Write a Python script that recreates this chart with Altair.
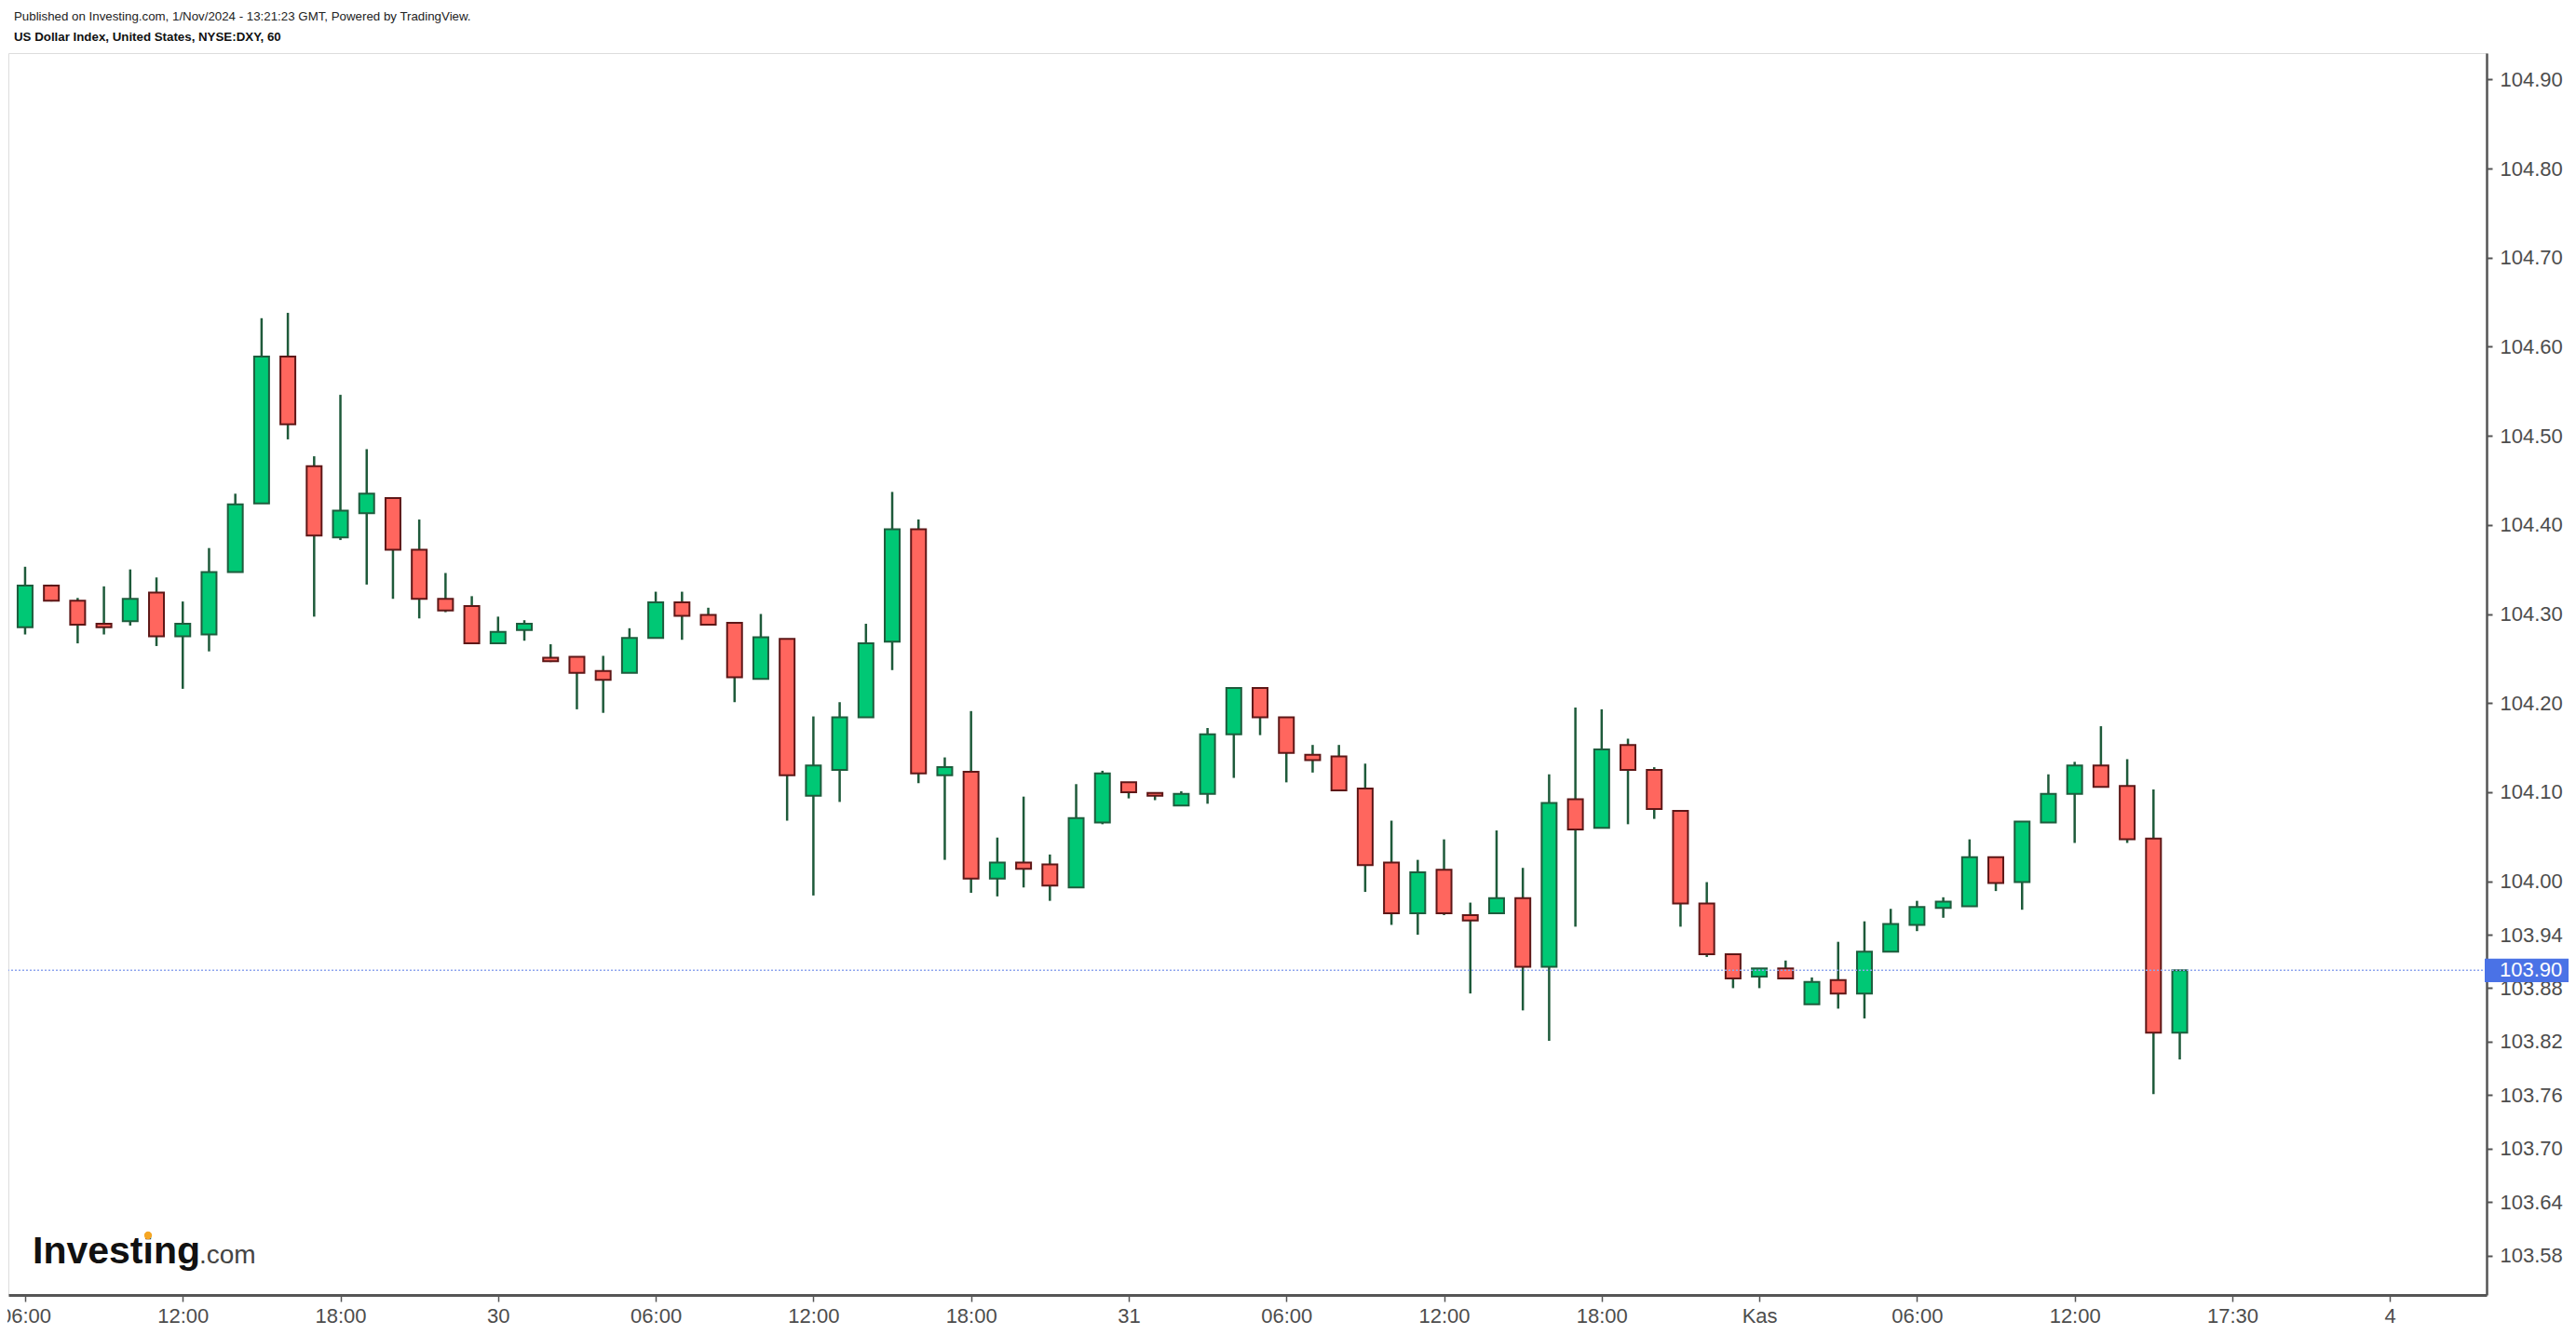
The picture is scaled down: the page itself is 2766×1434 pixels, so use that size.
import altair as alt
import pandas as pd

# ---- data (hourly DXY candles, bar index 0 = 29 Oct 06:00) ----
opens = [104.285, 104.332, 104.315, 104.289, 104.292, 104.324, 104.275, 104.277, 104.347, 104.424,
         104.589, 104.466, 104.386, 104.413, 104.430, 104.372, 104.317, 104.309, 104.267, 104.282,
         104.251, 104.252, 104.236, 104.234, 104.273, 104.313, 104.299, 104.290, 104.227, 104.272,
         104.096, 104.125, 104.184, 104.269, 104.395, 104.119, 104.123, 104.003, 104.021, 104.019,
         103.993, 104.066, 104.111, 104.099, 104.085, 104.098, 104.165, 104.217, 104.184, 104.142,
         104.140, 104.104, 104.021, 103.964, 104.013, 103.962, 103.964, 103.981, 103.904, 104.092,
         104.060, 104.153, 104.125, 104.079, 103.975, 103.918, 103.893, 103.902, 103.862, 103.889,
         103.874, 103.921, 103.951, 103.970, 103.972, 104.027, 103.999, 104.066, 104.098, 104.130,
         104.107, 104.048, 103.830]
highs = [104.353, 104.333, 104.318, 104.331, 104.350, 104.341, 104.314, 104.374, 104.435, 104.632,
         104.638, 104.477, 104.546, 104.485, 104.430, 104.406, 104.346, 104.320, 104.297, 104.293,
         104.266, 104.252, 104.253, 104.284, 104.325, 104.325, 104.307, 104.290, 104.300, 104.272,
         104.185, 104.201, 104.289, 104.437, 104.406, 104.139, 104.191, 104.049, 104.095, 104.030,
         104.109, 104.124, 104.111, 104.099, 104.101, 104.172, 104.217, 104.217, 104.184, 104.153,
         104.153, 104.132, 104.068, 104.024, 104.047, 103.976, 104.057, 104.015, 104.120, 104.195,
         104.193, 104.160, 104.128, 104.079, 103.999, 103.918, 103.902, 103.911, 103.892, 103.932,
         103.955, 103.969, 103.978, 103.982, 104.047, 104.027, 104.067, 104.120, 104.134, 104.174,
         104.137, 104.103, 103.900]
lows = [104.277, 104.314, 104.267, 104.277, 104.287, 104.264, 104.216, 104.258, 104.347, 104.424,
        104.496, 104.297, 104.383, 104.333, 104.317, 104.295, 104.302, 104.267, 104.267, 104.270,
        104.246, 104.193, 104.189, 104.234, 104.273, 104.271, 104.288, 104.201, 104.227, 104.068,
        103.984, 104.089, 104.184, 104.237, 104.110, 104.024, 103.987, 103.983, 103.993, 103.978,
        103.993, 104.064, 104.093, 104.091, 104.085, 104.087, 104.116, 104.164, 104.111, 104.122,
        104.102, 103.988, 103.951, 103.940, 103.962, 103.874, 103.964, 103.855, 103.821, 103.949,
        104.060, 104.064, 104.070, 103.949, 103.915, 103.880, 103.880, 103.891, 103.862, 103.857,
        103.846, 103.921, 103.944, 103.959, 103.972, 103.989, 103.968, 104.066, 104.043, 104.106,
        104.043, 103.761, 103.800]
closes = [104.332, 104.315, 104.288, 104.285, 104.317, 104.275, 104.289, 104.347, 104.423, 104.589,
          104.513, 104.388, 104.416, 104.435, 104.372, 104.317, 104.304, 104.267, 104.280, 104.289,
          104.247, 104.234, 104.226, 104.273, 104.313, 104.298, 104.288, 104.229, 104.274, 104.119,
          104.130, 104.184, 104.267, 104.395, 104.121, 104.128, 104.003, 104.021, 104.014, 103.995,
          104.071, 104.121, 104.100, 104.096, 104.098, 104.165, 104.217, 104.184, 104.144, 104.136,
          104.102, 104.018, 103.964, 104.010, 103.964, 103.956, 103.981, 103.904, 104.088, 104.058,
          104.148, 104.125, 104.081, 103.975, 103.918, 103.891, 103.902, 103.891, 103.887, 103.874,
          103.921, 103.952, 103.971, 103.977, 104.027, 103.998, 104.067, 104.098, 104.130, 104.106,
          104.047, 103.830, 103.900]

x_tick_positions = [0, 6, 12, 18, 24, 30, 36, 42, 48, 54, 60, 66, 72, 78, 84, 90]
x_tick_labels = ["06:00", "12:00", "18:00", "30", "06:00", "12:00", "18:00", "31",
                 "06:00", "12:00", "18:00", "Kas", "06:00", "12:00", "17:30", "4"]
y_tick_values = [104.90, 104.80, 104.70, 104.60, 104.50, 104.40, 104.30, 104.20, 104.10,
                 104.00, 103.94, 103.88, 103.82, 103.76, 103.70, 103.64, 103.58]
last_price = 103.90

header_line1 = "Published on Investing.com, 1/Nov/2024 - 13:21:23 GMT, Powered by TradingView."
header_line2 = "US Dollar Index, United States, NYSE:DXY, 60"

# ---- styling ----
FONT = "Liberation Sans, Arial, sans-serif"
UP_FILL, DOWN_FILL = "#00C875", "#FF665E"
UP_EDGE, DOWN_EDGE = "#1E5C3D", "#5E1717"
WICK = "#1E5A3A"
AXIS = "#555555"
LABEL = "#4d4d4d"
LABEL_SIZE = 22

df = pd.DataFrame({
    "i": list(range(len(opens))),
    "open": opens, "high": highs, "low": lows, "close": closes,
})
df["dir"] = ["up" if c >= o else "down" for o, c in zip(opens, closes)]

x_scale = alt.Scale(domain=[-0.459, 93.5], nice=False, zero=False)
y_scale = alt.Scale(domain=[103.5356, 104.9296], nice=False, zero=False)

label_arr = "[" + ",".join("'" + s + "'" for s in x_tick_labels) + "]"

x_axis = alt.Axis(values=x_tick_positions, labelExpr=label_arr + "[round(datum.value/6)]",
                  title=None, grid=False, domainColor=AXIS, domainWidth=3, tickColor=AXIS,
                  tickSize=7, tickWidth=1.5, labelFont=FONT, labelFontSize=LABEL_SIZE,
                  labelColor=LABEL, labelPadding=5, labelFlush=False, labelOverlap=False)
y_axis = alt.Axis(orient="right", values=y_tick_values, format=".2f", title=None, grid=False,
                  domainColor=AXIS, domainWidth=2.5, tickColor=AXIS, tickSize=6, tickWidth=2,
                  labelFont=FONT, labelFontSize=LABEL_SIZE, labelColor=LABEL, labelPadding=8,
                  labelFlush=False, labelOverlap=False)

base = alt.Chart(df)

wicks = base.mark_rule(color=WICK, strokeWidth=2.5).encode(
    x=alt.X("i:Q", scale=x_scale, axis=x_axis),
    y=alt.Y("low:Q", scale=y_scale, axis=y_axis),
    y2="high:Q",
)

bodies = base.mark_bar(size=16, strokeWidth=2).encode(
    x=alt.X("i:Q", scale=x_scale),
    y=alt.Y("open:Q", scale=y_scale),
    y2="close:Q",
    fill=alt.Fill("dir:N", scale=alt.Scale(domain=["up", "down"], range=[UP_FILL, DOWN_FILL]), legend=None),
    stroke=alt.Stroke("dir:N", scale=alt.Scale(domain=["up", "down"], range=[UP_EDGE, DOWN_EDGE]), legend=None),
)

price_line = alt.Chart(pd.DataFrame({"p": [last_price]})).mark_rule(
    color="#8FA6EE", strokeDash=[2, 2], strokeWidth=1.5
).encode(y=alt.Y("p:Q", scale=y_scale))

box_half = 0.0132
price_box = alt.Chart(pd.DataFrame({"top": [last_price + box_half], "bot": [last_price - box_half]})).mark_rect(
    color="#4A72E6"
).encode(x=alt.value(2659), x2=alt.value(2749), y=alt.Y("top:Q", scale=y_scale), y2="bot:Q")

price_text = alt.Chart(pd.DataFrame({"p": [last_price], "t": [f"{last_price:.2f}"]})).mark_text(
    align="left", baseline="middle", color="white", fontSize=LABEL_SIZE, font=FONT
).encode(x=alt.value(2675), y=alt.Y("p:Q", scale=y_scale), text="t:N")

h1 = alt.Chart(pd.DataFrame({"t": [header_line1]})).mark_text(
    align="left", baseline="middle", fontSize=13.3, font=FONT, color="#222222"
).encode(x=alt.value(6), y=alt.value(-39.5), text="t:N")

h2 = alt.Chart(pd.DataFrame({"t": [header_line2]})).mark_text(
    align="left", baseline="middle", fontSize=13.3, font=FONT, fontWeight="bold", color="#111111"
).encode(x=alt.value(6), y=alt.value(-17), text="t:N")

logo1 = alt.Chart(pd.DataFrame({"t": ["Investing"]})).mark_text(
    align="left", baseline="alphabetic", fontSize=41, font=FONT,
    fontWeight="bold", color="#111111"
).encode(x=alt.value(26), y=alt.value(1300), text="t:N")

logo2 = alt.Chart(pd.DataFrame({"t": [".com"]})).mark_text(
    align="left", baseline="alphabetic", fontSize=28, font=FONT,
    color="#444444"
).encode(x=alt.value(205), y=alt.value(1300), text="t:N")

logo_dot = alt.Chart(pd.DataFrame({"t": [1]})).mark_point(
    shape="circle", filled=True, size=70, color="#F5A623", opacity=1
).encode(x=alt.value(150), y=alt.value(1270))

chart = alt.layer(
    wicks, bodies, price_line, price_box, price_text, h1, h2, logo1, logo2, logo_dot
).properties(
    width=2661, height=1334,
    autosize=alt.AutoSizeParams(type="none"),
    padding={"left": 1, "top": 49, "right": 88, "bottom": 34},
).configure_view(stroke=None).configure(background="white")

chart.save("out.html", embed_options={"renderer": "svg", "actions": False})
